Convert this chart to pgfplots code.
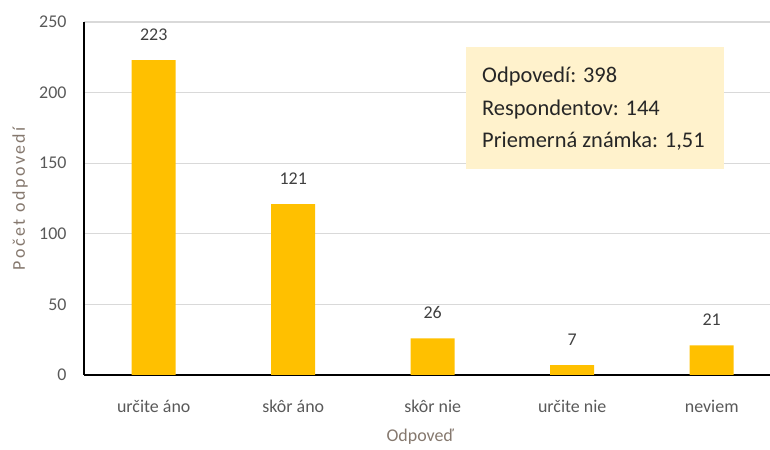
\documentclass[border=0pt]{standalone}
\usepackage{fontspec}
\setmainfont{Carlito}
\newfontfamily\spaced[LetterSpace=14]{Carlito}
\usepackage{pgfplots}
\pgfplotsset{compat=1.18}
\definecolor{barc}{HTML}{FFC000}
\definecolor{gridc}{HTML}{D9D9D9}
\definecolor{tickc}{HTML}{595959}
\definecolor{labc}{HTML}{85786E}
\definecolor{datac}{HTML}{404040}
\definecolor{boxc}{HTML}{FFF2CC}
\begin{document}
\begin{tikzpicture}[x=1bp,y=1bp]
\useasboundingbox (0,0) rectangle (770,450);
\begin{axis}[
  at={(84bp,75bp)}, anchor=south west,
  width=686bp, height=353bp, scale only axis,
  xmin=-0.5, xmax=4.418, ymin=0, ymax=250,
  ytick={0,50,...,250},
  xtick={0,1,2,3,4},
  xticklabels={určite áno, skôr áno, skôr nie, určite nie, neviem},
  ymajorgrids, grid style={color=gridc, line width=1.2bp},
  axis x line*=bottom, axis y line*=left,
  axis line style={-, black, line width=2bp},
  major tick length=0pt,
  tick label style={font=\fontsize{18}{21}\selectfont, text=tickc},
  /pgf/number format/assume math mode=true,
  yticklabel style={xshift=-14bp},
  xticklabel style={yshift=-22bp},
  xlabel={Odpoveď}, ylabel={{\spaced Počet odpovedí}},
  label style={font=\fontsize{18}{21}\selectfont, text=labc},
  xlabel style={at={(axis description cs:0.49,0)}, anchor=center, yshift=-62bp},
  ylabel style={at={(axis description cs:-0.0933,0.5)}, anchor=center, rotate=0},
  clip=false,
]
\addplot[ybar, bar width=44bp, fill=barc, draw=none,
  nodes near coords,
  every node near coord/.append style={font=\fontsize{18}{21}\selectfont, text=datac, yshift=16bp},
] coordinates {(0,223) (1,121) (2,26) (3,7) (4,21)};
\end{axis}
\fill[boxc] (466,281) rectangle (724,403);
\begin{scope}[every node/.style={inner sep=0pt, anchor=base west, font=\fontsize{22.5}{26}\selectfont, text=black!85}]
\node at (482,367.5) {Odpovedí: 398};
\node at (482,334.5) {Respondentov: 144};
\node at (482,302.5) {Priemerná známka: 1,51};
\end{scope}
\end{tikzpicture}
\end{document}
